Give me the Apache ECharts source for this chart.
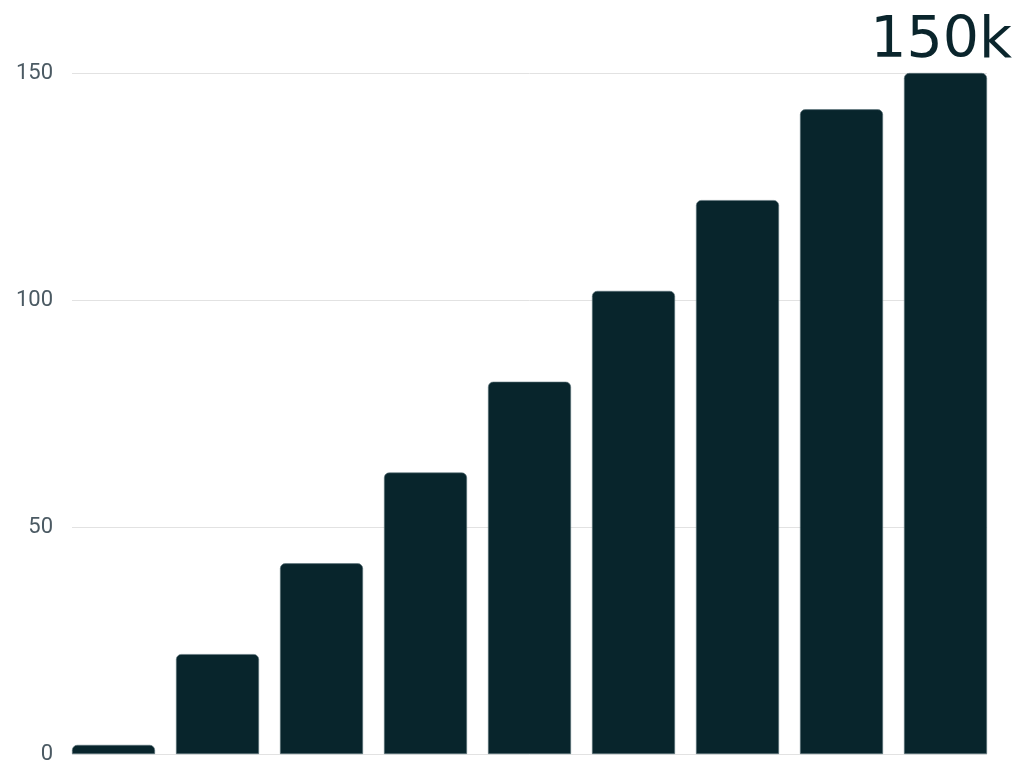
<!DOCTYPE html>
<html><head><meta charset="utf-8">
<script src="https://cdn.jsdelivr.net/npm/echarts@6/dist/echarts.min.js"></script>
<style>html,body{margin:0;padding:0;background:#fff}#c{width:1024px;height:768px}</style>
</head><body><div id="c"></div>
<script>
const categories = ['1','2','3','4','5','6','7','8','9'];
const values = [2, 22, 42, 62, 82, 102, 122, 142, 150];
const yTicks = [0, 50, 100, 150];
const headline = '150k';

const chart = echarts.init(document.getElementById('c'));
chart.setOption({
  animation: false,
  backgroundColor: '#ffffff',
  title: {
    text: headline, right: 7, top: 9,
    textStyle: { fontFamily: 'DejaVu Sans', fontWeight: 'normal', fontSize: 57, color: '#0a252c' }
  },
  grid: [
    { left: 72, right: 37, top: 73, bottom: 14 },
    { left: 61.5, right: 26.5, top: 73, bottom: 14 }
  ],
  xAxis: [
    { type: 'category', gridIndex: 0, data: categories, show: false },
    { type: 'category', gridIndex: 1, data: categories, show: false }
  ],
  yAxis: [
    {
      type: 'value', gridIndex: 0, min: yTicks[0], max: yTicks[yTicks.length - 1], interval: 50,
      axisLine: { show: false }, axisTick: { show: false },
      axisLabel: { fontFamily: 'Roboto', fontSize: 22, color: '#4b5a63', margin: 19 },
      splitLine: { lineStyle: { color: '#e2e2e2', width: 1 } }
    },
    { type: 'value', gridIndex: 1, min: 0, max: 150, show: false, splitLine: { show: false } }
  ],
  series: [{
    type: 'bar', xAxisIndex: 1, yAxisIndex: 1, data: values, barWidth: 83,
    itemStyle: { color: '#08252c', borderRadius: [5, 5, 0, 0], borderColor: '#5c737a', borderWidth: 0.6 }
  }]
});
</script></body></html>
